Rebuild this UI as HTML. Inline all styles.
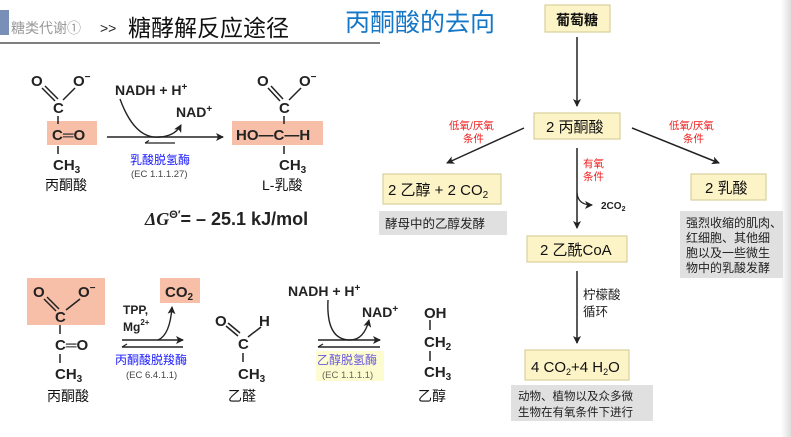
<!DOCTYPE html>
<html><head><meta charset="utf-8"><style>
html,body{margin:0;padding:0;background:#fff;}
svg{display:block;}
text{font-family:"Liberation Sans","Noto Sans CJK SC",sans-serif;}
.c{font-weight:bold;font-size:15px;fill:#222;}
.cn{font-size:14px;fill:#111;}
.b{fill:#fcf3c6;stroke:#d8d09a;stroke-width:1.2;}
.g{fill:#e0e0e0;}
.r{fill:#f02020;font-size:10.5px;}
</style></head><body>
<svg width="791" height="437" viewBox="0 0 791 437" xmlns="http://www.w3.org/2000/svg">
<defs>
<marker id="a" markerWidth="8" markerHeight="8" refX="7" refY="4" orient="auto" markerUnits="userSpaceOnUse"><path d="M0,0 L8,4 L0,8 L2,4z" fill="#222"/></marker>
<linearGradient id="sh" x1="0" x2="1"><stop offset="0" stop-color="#fff"/><stop offset="1" stop-color="#ddd"/></linearGradient>
</defs>
<rect x="781" y="0" width="10" height="437" fill="url(#sh)"/>
<rect x="0" y="10" width="9" height="25" fill="#7a8fb8"/>
<text x="11" y="33" font-size="14" fill="#999">糖类代谢①</text>
<text x="100" y="33" font-size="14" fill="#222">&gt;&gt;</text>
<text x="128" y="36" font-size="23" fill="#111">糖酵解反应途径</text>
<line x1="0" y1="43" x2="380" y2="43" stroke="#333" stroke-width="1.2"/>
<text x="345" y="31" font-size="25" fill="#1577c8">丙酮酸的去向</text>

<rect class="b" x="545" y="5" width="65" height="27"/><text x="556" y="25" class="cn" font-weight="bold">葡萄糖</text>
<line x1="577" y1="37" x2="577" y2="106" stroke="#222" stroke-width="1.5" marker-end="url(#a)"/>
<rect class="b" x="534" y="113" width="86" height="26"/><text x="546" y="132" font-size="15" fill="#111">2 丙酮酸</text>
<line x1="524" y1="128" x2="447" y2="163" stroke="#222" stroke-width="1.5" marker-end="url(#a)"/>
<line x1="632" y1="128" x2="719" y2="163" stroke="#222" stroke-width="1.5" marker-end="url(#a)"/>
<text class="r" x="449" y="129">低氧/厌氧</text><text class="r" x="463" y="142">条件</text>
<text class="r" x="669" y="129">低氧/厌氧</text><text class="r" x="683" y="142">条件</text>
<text class="r" x="583" y="167">有氧</text><text class="r" x="583" y="180">条件</text>
<line x1="577" y1="148" x2="577" y2="228" stroke="#222" stroke-width="1.5" marker-end="url(#a)"/>
<path d="M577,193 Q578,205 592,205" fill="none" stroke="#222" stroke-width="1.3" marker-end="url(#a)"/>
<text x="601" y="209" font-size="10" font-weight="bold" fill="#222">2CO<tspan font-size="7" dy="2">2</tspan></text>
<rect class="b" x="383" y="174" width="118" height="30"/><text x="388" y="195" font-size="15" fill="#111">2 乙醇 + 2 CO<tspan font-size="10" dy="3">2</tspan></text>
<rect class="g" x="379" y="211" width="128" height="24"/><text x="385" y="228" font-size="12.5" fill="#222">酵母中的乙醇发酵</text>
<rect class="b" x="691" y="174" width="75" height="26"/><text x="705" y="193" font-size="15" fill="#111">2 乳酸</text>
<rect class="g" x="680" y="211" width="103" height="67"/>
<text font-size="12" fill="#222"><tspan x="686" y="227">强烈收缩的肌肉、</tspan><tspan x="686" y="242">红细胞、其他细</tspan><tspan x="686" y="257">胞以及一些微生</tspan><tspan x="686" y="272">物中的乳酸发酵</tspan></text>
<rect class="b" x="527" y="236" width="100" height="26"/><text x="540" y="255" font-size="15" fill="#111">2 乙酰CoA</text>
<line x1="577" y1="271" x2="577" y2="343" stroke="#222" stroke-width="1.5" marker-end="url(#a)"/>
<text x="583" y="299" font-size="12.5" fill="#222">柠檬酸</text><text x="583" y="316" font-size="12.5" fill="#222">循环</text>
<rect class="b" x="525" y="350" width="104" height="30"/><text x="531" y="372" font-size="15" fill="#111">4 CO<tspan font-size="9" dy="3">2</tspan><tspan dy="-3">+4 H</tspan><tspan font-size="9" dy="3">2</tspan><tspan dy="-3">O</tspan></text>
<rect class="g" x="511" y="385" width="142" height="36"/>
<text font-size="11.5" fill="#222"><tspan x="518" y="400">动物、植物以及众多微</tspan><tspan x="518" y="416">生物在有氧条件下进行</tspan></text>

<rect x="47" y="121" width="50" height="24" fill="#f7bfa8"/>
<rect x="232" y="121" width="91" height="24" fill="#f7bfa8"/>
<text class="c" x="31" y="86">O</text><text class="c" x="73" y="86">O<tspan font-size="10" dy="-6">−</tspan></text>
<line x1="42" y1="88" x2="55" y2="101" stroke="#222" stroke-width="1.5"/><line x1="45" y1="86" x2="58" y2="99" stroke="#222" stroke-width="1.5"/>
<line x1="75" y1="88" x2="63" y2="100" stroke="#222" stroke-width="1.5"/>
<text class="c" x="53" y="113">C</text>
<line x1="58" y1="116" x2="58" y2="124" stroke="#222" stroke-width="1.5"/>
<text class="c" x="52" y="140">C═O</text>
<line x1="58" y1="146" x2="58" y2="154" stroke="#222" stroke-width="1.5"/>
<text class="c" x="53" y="170">CH<tspan font-size="10" dy="3">3</tspan></text>
<text x="45" y="190" class="cn">丙酮酸</text>
<line x1="107" y1="137" x2="223" y2="137" stroke="#222" stroke-width="1.4" marker-end="url(#a)"/>
<line x1="145" y1="143" x2="175" y2="143" stroke="#222" stroke-width="1.2"/>
<path d="M145,143 l4,-2.5" stroke="#222" stroke-width="1.2"/>
<text x="115" y="95" font-size="14" font-weight="bold" fill="#222">NADH + H<tspan font-size="10" dy="-5">+</tspan></text>
<text x="176" y="117" font-size="14" font-weight="bold" fill="#222">NAD<tspan font-size="10" dy="-5">+</tspan></text>
<path d="M120,99 Q135,140 160,137 Q175,136 181,125" fill="none" stroke="#222" stroke-width="1.4" marker-end="url(#a)"/>
<text x="130" y="164" font-size="12" fill="#1a1aff">乳酸脱氢酶</text>
<text x="131" y="177" font-size="9.5" fill="#444">(EC 1.1.1.27)</text>
<text class="c" x="257" y="86">O</text><text class="c" x="299" y="86">O<tspan font-size="10" dy="-6">−</tspan></text>
<line x1="268" y1="88" x2="280" y2="101" stroke="#222" stroke-width="1.5"/><line x1="271" y1="86" x2="283" y2="99" stroke="#222" stroke-width="1.5"/>
<line x1="301" y1="88" x2="289" y2="100" stroke="#222" stroke-width="1.5"/>
<text class="c" x="279" y="113">C</text>
<line x1="284" y1="116" x2="284" y2="124" stroke="#222" stroke-width="1.5"/>
<text class="c" x="236" y="140">HO—C—H</text>
<line x1="284" y1="146" x2="284" y2="154" stroke="#222" stroke-width="1.5"/>
<text class="c" x="279" y="170">CH<tspan font-size="10" dy="3">3</tspan></text>
<text x="262" y="190" class="cn">L-乳酸</text>
<text x="145" y="225" font-size="18" font-weight="bold" fill="#222"><tspan font-family="Liberation Serif" font-style="italic">ΔG</tspan><tspan font-size="11" dy="-7">Θ′</tspan><tspan dy="7">= –  25.1 kJ/mol</tspan></text>

<rect x="27" y="278" width="78" height="47" fill="#f7bfa8"/>
<rect x="160" y="278" width="40" height="25" fill="#f7bfa8"/>
<text class="c" x="33" y="297">O</text><text class="c" x="78" y="297">O<tspan font-size="10" dy="-6">−</tspan></text>
<line x1="44" y1="299" x2="56" y2="311" stroke="#222" stroke-width="1.5"/><line x1="47" y1="297" x2="59" y2="309" stroke="#222" stroke-width="1.5"/>
<line x1="80" y1="299" x2="66" y2="310" stroke="#222" stroke-width="1.5"/>
<text class="c" x="55" y="322">C</text>
<line x1="60" y1="325" x2="60" y2="334" stroke="#222" stroke-width="1.5"/>
<text class="c" x="55" y="350">C═O</text>
<line x1="60" y1="354" x2="60" y2="363" stroke="#222" stroke-width="1.5"/>
<text class="c" x="55" y="379">CH<tspan font-size="10" dy="3">3</tspan></text>
<text x="47" y="401" class="cn">丙酮酸</text>
<text x="165" y="297" font-size="15" font-weight="bold" fill="#222">CO<tspan font-size="10" dy="3">2</tspan></text>
<text x="123" y="314" font-size="12" font-weight="bold" fill="#222">TPP,</text>
<text x="123" y="331" font-size="12" font-weight="bold" fill="#222">Mg<tspan font-size="8" dy="-6">2+</tspan></text>
<line x1="122" y1="340" x2="183" y2="340" stroke="#222" stroke-width="1.4" marker-end="url(#a)"/>
<line x1="122" y1="347" x2="183" y2="347" stroke="#222" stroke-width="1.4"/>
<path d="M122,347 l5,-3" stroke="#222" stroke-width="1.2"/>
<path d="M158,340 Q170,335 172,307" fill="none" stroke="#222" stroke-width="1.4" marker-end="url(#a)"/>
<text x="115" y="364" font-size="12" fill="#1a1aff">丙酮酸脱羧酶</text>
<text x="126" y="378" font-size="9.5" fill="#444">(EC 6.4.1.1)</text>
<text class="c" x="215" y="326">O</text><text class="c" x="259" y="326">H</text>
<line x1="226" y1="326" x2="238" y2="336" stroke="#222" stroke-width="1.5"/><line x1="228" y1="323" x2="240" y2="333" stroke="#222" stroke-width="1.5"/>
<line x1="261" y1="327" x2="248" y2="337" stroke="#222" stroke-width="1.5"/>
<text class="c" x="238" y="349">C</text>
<line x1="243" y1="353" x2="243" y2="362" stroke="#222" stroke-width="1.5"/>
<text class="c" x="238" y="379">CH<tspan font-size="10" dy="3">3</tspan></text>
<text x="228" y="401" class="cn">乙醛</text>
<text x="288" y="296" font-size="14" font-weight="bold" fill="#222">NADH + H<tspan font-size="10" dy="-5">+</tspan></text>
<text x="362" y="317" font-size="14" font-weight="bold" fill="#222">NAD<tspan font-size="10" dy="-5">+</tspan></text>
<line x1="318" y1="340" x2="380" y2="340" stroke="#222" stroke-width="1.4" marker-end="url(#a)"/>
<line x1="318" y1="347" x2="380" y2="347" stroke="#222" stroke-width="1.4"/>
<path d="M318,347 l5,-3" stroke="#222" stroke-width="1.2"/>
<path d="M328,300 Q326,340 350,340 Q364,340 369,320" fill="none" stroke="#222" stroke-width="1.4" marker-end="url(#a)"/>
<rect x="316" y="351" width="68" height="30" fill="#fdfbd0"/>
<text x="317" y="364" font-size="12" fill="#6a5ae0">乙醇脱氢酶</text>
<text x="322" y="378" font-size="9.5" fill="#665">(EC 1.1.1.1)</text>
<text class="c" x="424" y="318">OH</text>
<line x1="430" y1="320" x2="430" y2="330" stroke="#222" stroke-width="1.5"/>
<text class="c" x="424" y="347">CH<tspan font-size="10" dy="3">2</tspan></text>
<line x1="430" y1="351" x2="430" y2="361" stroke="#222" stroke-width="1.5"/>
<text class="c" x="424" y="377">CH<tspan font-size="10" dy="3">3</tspan></text>
<text x="418" y="401" class="cn">乙醇</text>
</svg>
</body></html>
